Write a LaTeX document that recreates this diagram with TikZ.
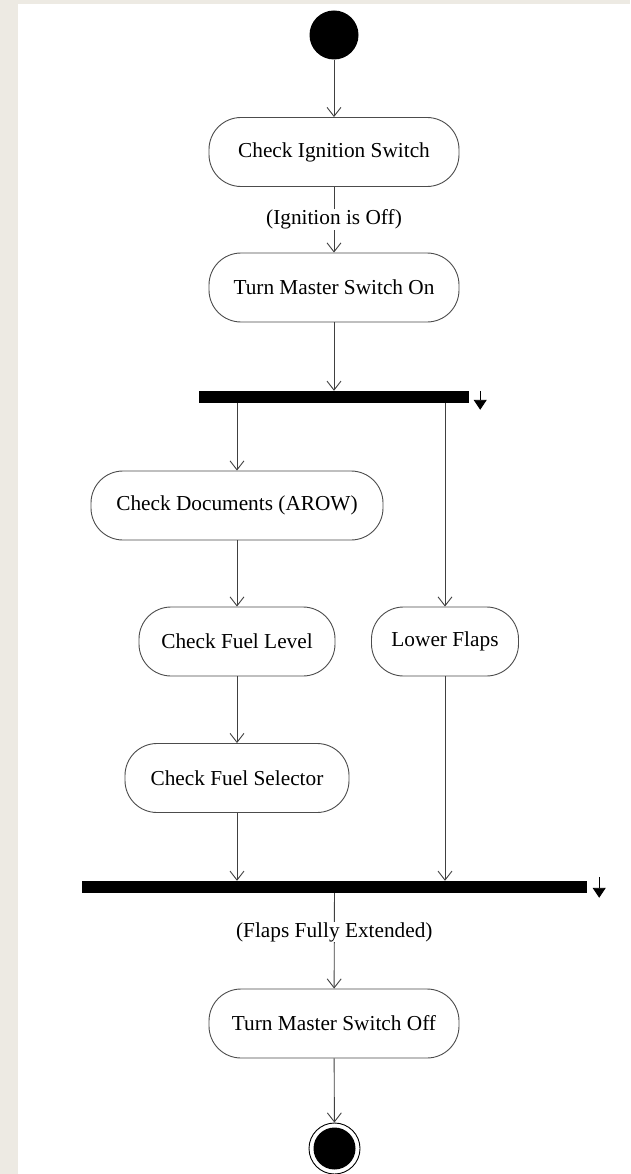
\documentclass[tikz,border=0pt]{standalone}
\usepackage{fontspec}
\setmainfont{Liberation Serif}
\usetikzlibrary{arrows.meta}

\begin{document}
\begin{tikzpicture}[x=1pt,y=-1pt,
    every node/.style={font=\fontsize{21.3}{25}\selectfont},
    act/.style={draw=black!70, line width=0.9pt, rounded corners=32pt,
      minimum height=69pt, inner sep=0pt, fill=white},
    bar/.style={fill=black, minimum height=12pt, inner sep=0pt},
    flow/.style={draw=black!75, line width=0.9pt,
      -{Straight Barb[length=9pt,width=14pt]}},
    guard/.style={fill=white, inner sep=0.5pt},
    forkmark/.style={line width=0.9pt, -{Triangle[length=10pt,width=13pt]}}]
\definecolor{paper}{RGB}{237,234,227}

   % page and its margin
   \fill[paper] (0,0) rectangle (630,1174);
   \fill[white] (18,4) rectangle (630,1174);
   \useasboundingbox (0,0) rectangle (630,1174);

        % initial state and first actions
        \node[circle, fill=black, minimum size=49pt, inner sep=0pt] (start) at (334,35) {};
        \node[act, minimum width=250pt] (ignition) at (334,152) {Check Ignition Switch};
        \node[act, minimum width=250pt] (masterOn) at (334,287.5) {Turn Master Switch On};

        % fork
        \node[bar, minimum width=270pt] (fork) at (334,397) {};
        \coordinate (forkTip) at ([xshift=11pt]fork.north east);

        \node[act, minimum width=292pt] (docs) at (237,505.5) {Check Documents (AROW)};
        \node[act, minimum width=196pt] (fuel) at (237,641.5) {Check Fuel Level};
        \node[act, minimum width=147pt] (flaps) at (445,641.5) {Lower Flaps};
        \node[act, minimum width=224pt] (selector) at (237,778) {Check Fuel Selector};

        % join
        \node[bar, minimum width=505pt] (join) at (334.5,887) {};
        \coordinate (joinTip) at ([xshift=12pt,yshift=4pt]join.north east);

        \node[act, minimum width=250pt] (masterOff) at (334,1023.5) {Turn Master Switch Off};

        % final state
        \node[circle, draw=black, line width=0.9pt, minimum size=51pt, inner sep=0pt] (final) at (334.5,1148.5) {};
        \node[circle, fill=black, minimum size=42pt, inner sep=0pt] (finalDot) at (final.center) {};

        %%%% connectors
        \foreach \a/\b in {start/ignition, masterOn/fork, docs/fuel, fuel/selector, masterOff/final}
            {
            \draw[flow] (\a) -- (\b);
            }
        \draw[flow] (ignition) -- node[guard] (offGuard) {(Ignition is Off)} (masterOn);
        \draw[flow] (docs |- fork.south) -- (docs);
        \draw[flow] (flaps |- fork.south) -- (flaps);
        \draw[flow] (selector) -- (selector |- join.north);
        \draw[flow] (flaps) -- (flaps |- join.north);
        \draw[flow] (join) -- node[guard, pos=0.41] (flapsGuard) {(Flaps Fully Extended)} (masterOff);

        % little arrows beside the bars
        \draw[forkmark] (forkTip) -- ++(0,19);
        \draw[forkmark] (joinTip) -- ++(0,21);

    \end{tikzpicture}
\end{document}
